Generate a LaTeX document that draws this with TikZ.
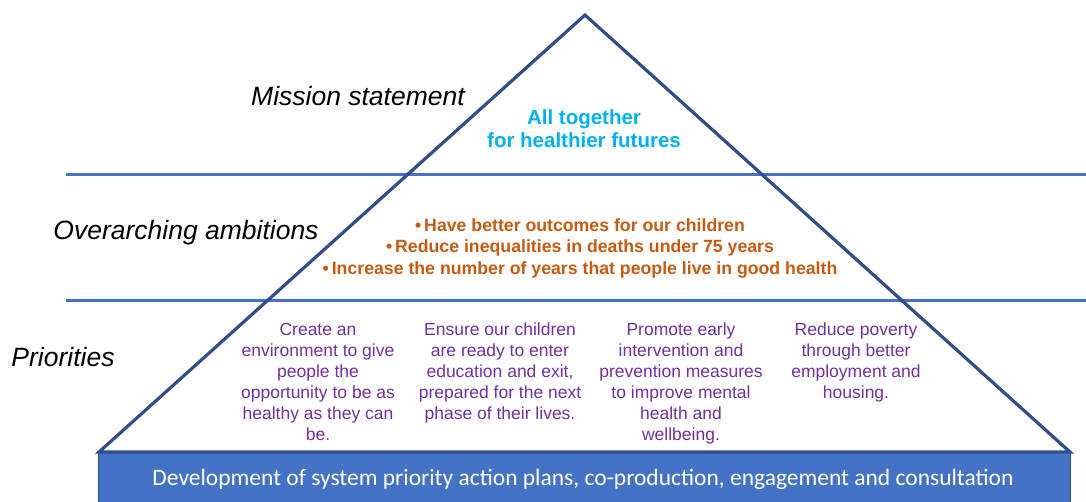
\documentclass[tikz,border=0pt]{standalone}
\usepackage{fontspec}
\setmainfont{Liberation Sans}
\newfontfamily\calibrifont{Carlito}
\definecolor{tridark}{HTML}{2F4E8A}
\definecolor{lineblue}{HTML}{4472C4}
\definecolor{barborder}{HTML}{2F528F}
\definecolor{missioncyan}{HTML}{00B0F0}
\definecolor{ambitionorange}{HTML}{C55A11}
\definecolor{prioritypurple}{HTML}{7030A0}
\tikzset{
  levellabel/.style={font=\fontsize{26.5}{30}\selectfont\itshape, text=black, inner sep=0pt},
  divider/.style={draw=lineblue, line width=3pt},
  pyramid/.style={draw=tridark, line width=3.2pt, line join=miter},
  missiontext/.style={font=\fontsize{20.5}{23}\selectfont\bfseries, text=missioncyan, align=center, inner sep=0pt},
  ambitiontext/.style={font=\fontsize{17.7}{21.5}\selectfont\bfseries, text=ambitionorange, align=center, inner sep=0pt},
  prioritytext/.style={font=\fontsize{17.5}{21}\selectfont, text=prioritypurple, align=center, inner sep=0pt, anchor=north},
  basebar/.style={fill=lineblue, draw=barborder, line width=1.2pt},
  bartext/.style={font=\calibrifont\fontsize{23.5}{26}\selectfont, text=white, inner sep=0pt}
}
\begin{document}
\begin{tikzpicture}[x=1pt, y=-1pt]
\useasboundingbox (0,0) rectangle (1086,501);
% dividers
\coordinate (d1l) at (66,174);
\coordinate (d1r) at (1090,174);
\coordinate (d2l) at (66,300);
\coordinate (d2r) at (1090,300);
\draw[divider] (d1l) -- (d1r);
\draw[divider] (d2l) -- (d2r);
% base bar
\node[basebar, minimum width=972pt, minimum height=56pt, anchor=north west, inner sep=0pt] (bar) at (98,452) {};
\node[bartext] (bartxt) at (583,479) {Development of system priority action plans, co-production, engagement and consultation};
% pyramid
\coordinate (apex) at (585,15);
\coordinate (bl) at (99,452);
\coordinate (br) at (1070,452);
\draw[pyramid] (bl) -- (apex) -- (br) -- cycle;
% level labels
\node[levellabel] (lmission) at (358,96) {Mission statement};
\node[levellabel] (lambition) at (186,233) {Overarching ambitions};
\node[levellabel] (lpriority) at (63,357) {Priorities};
% mission
\node[missiontext] (mission) at (584,129) {All together\\for healthier futures};
% ambitions
\node[ambitiontext] (ambitions) at (580,248) {\textbullet\,Have better outcomes for our children\\\textbullet\,Reduce inequalities in deaths under 75 years\\\textbullet\,Increase the number of years that people live in good health};
% priorities
\node[prioritytext] (p1) at (318,323) {Create an\\environment to give\\people the\\opportunity to be as\\healthy as they can\\be.};
\node[prioritytext] (p2) at (500,323) {Ensure our children\\are ready to enter\\education and exit,\\prepared for the next\\phase of their lives.};
\node[prioritytext] (p3) at (681,323) {Promote early\\intervention and\\prevention measures\\to improve mental\\health and\\wellbeing.};
\node[prioritytext] (p4) at (856,323) {Reduce poverty\\through better\\employment and\\housing.};
\end{tikzpicture}
\end{document}
